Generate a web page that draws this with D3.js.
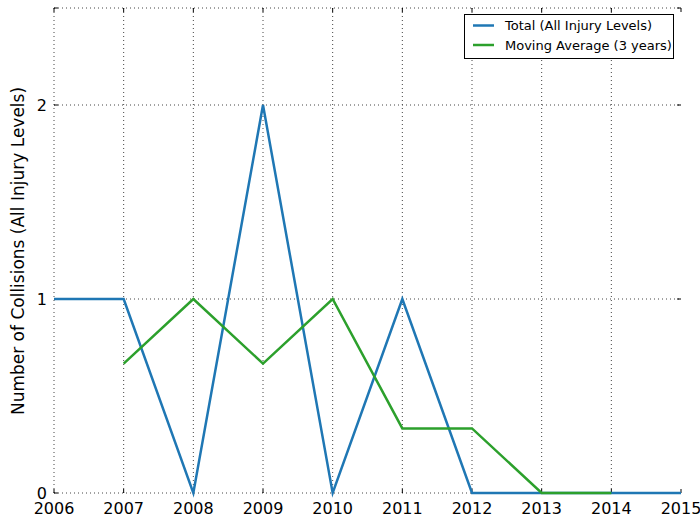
<!DOCTYPE html>
<meta charset="utf-8">
<style>
body { margin: 0; background: #fff; }
text { font-family: "DejaVu Sans", sans-serif; }
.grid line { stroke: #444; stroke-dasharray: 1,3; stroke-width: 1; }
.tick-mark { stroke: #000; stroke-width: 1; }
</style>
<svg width="700" height="519"></svg>
<script src="https://cdn.jsdelivr.net/npm/d3@7"></script>
<script>

var years = [2006, 2007, 2008, 2009, 2010, 2011, 2012, 2013, 2014, 2015];
var totals = [1, 1, 0, 2, 0, 1, 0, 0, 0, 0];
var avgYears = [2007, 2008, 2009, 2010, 2011, 2012, 2013, 2014];
var avgValues = [0.667, 1, 0.667, 1, 0.333, 0.333, 0, 0];
var yTicks = [0, 1, 2];
var seriesNames = ["Total (All Injury Levels)", "Moving Average (3 years)"];
var colors = ["#1f77b4", "#2ca02c"];

var svg = d3.select("svg"),
    plotLeft = 54, plotRight = 681, plotTop = 8, plotBottom = 493;

var x = d3.scaleLinear().domain([2006, 2015]).range([plotLeft, plotRight]);
var y = d3.scaleLinear().domain([0, 2.5]).range([plotBottom, plotTop]);

// grid (no line on the right edge, dotted line along the top)
var grid = svg.append("g").attr("class", "grid");
grid.selectAll(".vx").data(years.slice(0, -1)).enter().append("line")
    .attr("x1", function(d) { return x(d); }).attr("x2", function(d) { return x(d); })
    .attr("y1", plotTop).attr("y2", plotBottom);
grid.selectAll(".hy").data(yTicks.concat([2.5])).enter().append("line")
    .attr("y1", function(d) { return y(d); }).attr("y2", function(d) { return y(d); })
    .attr("x1", plotLeft).attr("x2", plotRight);

// inward tick marks on all four sides
var ticks = svg.append("g");
years.forEach(function(d) {
  ticks.append("line").attr("class", "tick-mark")
      .attr("x1", x(d)).attr("x2", x(d)).attr("y1", plotBottom).attr("y2", plotBottom - 4);
  ticks.append("line").attr("class", "tick-mark")
      .attr("x1", x(d)).attr("x2", x(d)).attr("y1", plotTop).attr("y2", plotTop + 4);
});
yTicks.concat([2.5]).forEach(function(d) {
  ticks.append("line").attr("class", "tick-mark")
      .attr("x1", plotLeft).attr("x2", plotLeft + 4).attr("y1", y(d)).attr("y2", y(d));
  ticks.append("line").attr("class", "tick-mark")
      .attr("x1", plotRight).attr("x2", plotRight - 4).attr("y1", y(d)).attr("y2", y(d));
});

// tick labels
svg.append("g").selectAll("text").data(years).enter().append("text")
    .attr("x", function(d) { return x(d); })
    .attr("y", 514)
    .attr("text-anchor", "middle")
    .attr("font-size", 16)
    .text(function(d) { return d; });

svg.append("g").selectAll("text").data(yTicks).enter().append("text")
    .attr("x", 47)
    .attr("y", function(d) { return y(d) + 6; })
    .attr("text-anchor", "end")
    .attr("font-size", 16)
    .text(function(d) { return d; });

svg.append("text")
    .attr("transform", "translate(24,251) rotate(-90)")
    .attr("text-anchor", "middle")
    .attr("font-size", 17)
    .text("Number of Collisions (All Injury Levels)");

// lines
var line = d3.line()
    .x(function(d) { return x(d[0]); })
    .y(function(d) { return y(d[1]); });

svg.append("path")
    .datum(d3.zip(years, totals))
    .attr("d", line)
    .attr("fill", "none")
    .attr("stroke", colors[0])
    .attr("stroke-width", 2.5);

svg.append("path")
    .datum(d3.zip(avgYears, avgValues))
    .attr("d", line)
    .attr("fill", "none")
    .attr("stroke", colors[1])
    .attr("stroke-width", 2.5);

// legend
var legend = svg.append("g");
legend.append("rect")
    .attr("x", 464.5).attr("y", 14.5)
    .attr("width", 209).attr("height", 44)
    .attr("fill", "#fff").attr("stroke", "#000");
seriesNames.forEach(function(name, i) {
  var ly = 25.5 + i * 19.5;
  legend.append("line")
      .attr("x1", 473).attr("x2", 494).attr("y1", ly).attr("y2", ly)
      .attr("stroke", colors[i]).attr("stroke-width", 2.5);
  legend.append("text")
      .attr("x", 505).attr("y", ly + 4.5)
      .attr("font-size", 13)
      .text(name);
});

</script>
